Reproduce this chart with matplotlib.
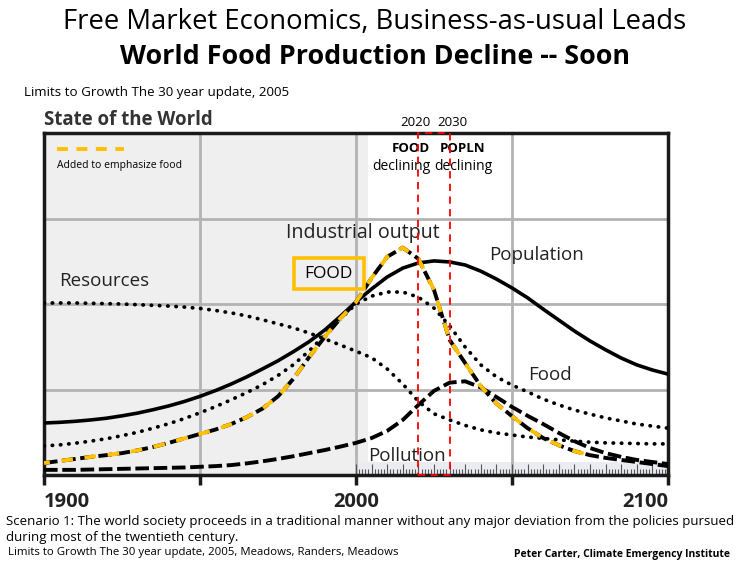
import numpy as np
import matplotlib
matplotlib.use('Agg')
import matplotlib.pyplot as plt
from matplotlib.patches import Rectangle

plt.rcParams['font.family'] = ['Open Sans', 'DejaVu Sans']

# years every 5 years (0-100 of chart height)
years = np.arange(1900, 2101, 5)

population = [15.2, 15.4, 15.7, 16.1, 16.6, 17.3, 18.1, 19.1, 20.2, 21.5,
              23.0, 24.7, 26.6, 28.7, 31.0, 33.4, 36.1, 39.0, 42.4, 46.4,
              50.6, 54.4, 57.9, 60.5, 62.0, 62.6, 62.3, 61.4, 59.6, 57.3,
              54.7, 51.8, 48.5, 45.3, 42.1, 39.2, 36.6, 34.2, 32.2, 30.7, 29.5]

industrial = [8.5, 8.8, 9.3, 9.9, 10.6, 11.5, 12.5, 13.7, 15.0, 16.5,
              18.2, 20.0, 22.0, 24.1, 26.4, 29.1, 32.3, 36.3, 40.9, 45.7,
              50.0, 52.3, 53.5, 53.5, 52.0, 48.8, 43.6, 37.4, 32.2, 28.7,
              26.3, 24.3, 22.2, 20.5, 19.0, 17.8, 16.7, 15.8, 14.9, 14.3, 13.7]

resources = [50.3, 50.3, 50.3, 50.2, 50.1, 50.0, 49.8, 49.6, 49.4, 49.1,
             48.7, 48.1, 47.4, 46.5, 45.4, 44.2, 43.0, 41.5, 39.8, 38.0,
             36.2, 34.3, 31.0, 26.6, 21.5, 17.9, 16.1, 14.5, 13.2, 12.3,
             11.7, 11.1, 10.7, 10.3, 9.9, 9.6, 9.4, 9.3, 9.2, 9.1, 9.1]

food = [3.5, 4.1, 4.7, 5.3, 5.8, 6.4, 7.2, 8.2, 9.4, 10.7,
        12.0, 13.3, 14.9, 16.9, 19.4, 23.0, 28.2, 34.5, 40.4, 45.8,
        50.6, 57.6, 63.8, 66.5, 63.2, 54.1, 39.5, 32.7, 26.0, 20.9,
        17.2, 13.7, 10.8, 8.7, 7.0, 5.8, 5.0, 4.4, 3.8, 3.2, 2.6]

pollution = [1.5, 1.5, 1.5, 1.6, 1.7, 1.8, 1.9, 2.0, 2.1, 2.2,
             2.4, 2.6, 2.9, 3.4, 4.0, 4.7, 5.5, 6.4, 7.3, 8.3,
             9.4, 10.8, 12.9, 16.1, 20.5, 24.6, 27.0, 27.4, 25.6, 22.8,
             19.9, 17.3, 14.9, 12.3, 9.9, 7.9, 6.4, 5.3, 4.4, 3.8, 3.2]

food_highlight_end = 2075
marked_years = [2020, 2030]
YELLOW = '#ffc000'

fig = plt.figure(figsize=(7.5, 5.63), dpi=100)
ax = fig.add_axes([44/750, 1-475/563, 624/750, 342/563])
ax.set_xlim(1900, 2100)
ax.set_ylim(0, 100)

# background: historical part shaded
ax.axvspan(1900, 2004, color='#efefef', zorder=0, lw=0)
ax.axvspan(2000, 2100, ymin=0, ymax=0.038, color='#ebebf2', zorder=0.5, lw=0)

# grid
for gx in [1950, 2000, 2050]:
    ax.axvline(gx, color='#b3b3b3', lw=2, zorder=1)
for gy in [25, 50, 75]:
    ax.axhline(gy, color='#b3b3b3', lw=2, zorder=1)

# yearly ruler ticks after 2000
ruler = np.arange(2000, 2101)
ax.vlines(ruler, 0, np.where(ruler % 5 == 0, 3.3, 1.8), color='#555555', lw=0.8, zorder=2)

# curves
dot = dict(color='black', lw=2.7, linestyle=(0, (0.1, 2.1)), dash_capstyle='round', zorder=4)
ax.plot(years, population, color='black', lw=2.6, zorder=4)
ax.plot(years, industrial, **dot)
ax.plot(years, resources, **dot)
ax.plot(years, pollution, color='black', lw=2.8, linestyle=(0, (3.5, 1.2)), zorder=4)
ax.plot(years, food, color='black', lw=2.8, linestyle=(0, (3.5, 1.2)), zorder=4)
mask = years <= food_highlight_end
ax.plot(years[mask], np.array(food)[mask], color=YELLOW, lw=2.8,
        linestyle=(1.5, (3.0, 3.0)), zorder=5)

# red markers 2020 / 2030
ax.add_patch(Rectangle((marked_years[0], 0), marked_years[1]-marked_years[0], 100,
                       fill=False, edgecolor='red', lw=1.3, linestyle=(0, (4, 3)),
                       zorder=7, clip_on=False))
ax.text(2018.9, 103.2, '2020', ha='center', va='center', fontsize=9.5)
ax.text(2030.8, 103.2, '2030', ha='center', va='center', fontsize=9.5)
ax.text(2017.6, 95.6, 'FOOD', ha='center', va='center', fontsize=9.5, fontweight='bold')
ax.text(2014.7, 90.1, 'declining', ha='center', va='center', fontsize=10)
ax.text(2034.0, 95.6, 'POPLN', ha='center', va='center', fontsize=9.5, fontweight='bold')
ax.text(2034.3, 90.1, 'declining', ha='center', va='center', fontsize=10)

# legend for yellow dashes
ax.plot([1904.2, 1925.6], [95.3, 95.3], color=YELLOW, lw=2.8, linestyle=(0, (2.8, 2.2)), zorder=5)
ax.text(1904.2, 90.4, 'Added to emphasize food', ha='left', va='center', fontsize=7.5)

# curve labels
lab = dict(ha='center', va='center', fontsize=13.5, color='#222222', zorder=6)
ax.text(2002.2, 70.8, 'Industrial output', ha='center', va='center', fontsize=14.1,
        color='#222222', zorder=6)
ax.text(1904.8, 56.7, 'Resources', ha='left', va='center', fontsize=13.5, color='#222222')
ax.text(2057.7, 64.3, 'Population', **lab)
ax.text(2062.2, 29.2, 'Food', **lab)
ax.text(2016.3, 5.6, 'Pollution', **lab)

ax.add_patch(Rectangle((1980.1, 54.4), 22.5, 9.1, fill=False, edgecolor=YELLOW, lw=2.6, zorder=6))
ax.text(1991.3, 58.8, 'FOOD', ha='center', va='center', fontsize=12.5, zorder=6)

# frame and ticks
for s in ax.spines.values():
    s.set_linewidth(2.5)
    s.set_color('#1a1a1a')
ax.set_yticks([])
ax.set_xticks([1900, 1950, 2000, 2050, 2100])
ax.set_xticklabels(['1900', '', '2000', '', '2100'], fontsize=14.5, fontweight='bold',
                   color='#222222')
ax.tick_params(axis='x', length=7, width=2.5, pad=5, color='#1a1a1a')
labels = ax.get_xticklabels()
labels[0].set_ha('left')
labels[4].set_ha('right')

# texts outside the chart
fig.text(0.5, 1-22/563, 'Free Market Economics, Business-as-usual Leads',
         ha='center', va='center', fontsize=19.8)
fig.text(0.5, 1-57/563, 'World Food Production Decline -- Soon',
         ha='center', va='center', fontsize=19.4, fontweight='bold')
fig.text(24/750, 1-92/563, 'Limits to Growth The 30 year update, 2005',
         ha='left', va='center', fontsize=9.6)
fig.text(44/750, 1-120/563, 'State of the World', ha='left', va='center',
         fontsize=13.4, fontweight='bold', color='#333333')
fig.text(6/750, 1-521/563,
         'Scenario 1: The world society proceeds in a traditional manner without any major deviation from the policies pursued',
         ha='left', va='center', fontsize=9.55)
fig.text(6/750, 1-538/563, 'during most of the twentieth century.',
         ha='left', va='center', fontsize=9.55)
fig.text(8/750, 1-552/563, 'Limits to Growth The 30 year update, 2005, Meadows, Randers, Meadows',
         ha='left', va='center', fontsize=8.2)
fig.text(730/750, 1-554/563, 'Peter Carter, Climate Emergency Institute',
         ha='right', va='center', fontsize=7.5, fontweight='bold')

fig.savefig('out.png', dpi=100)
